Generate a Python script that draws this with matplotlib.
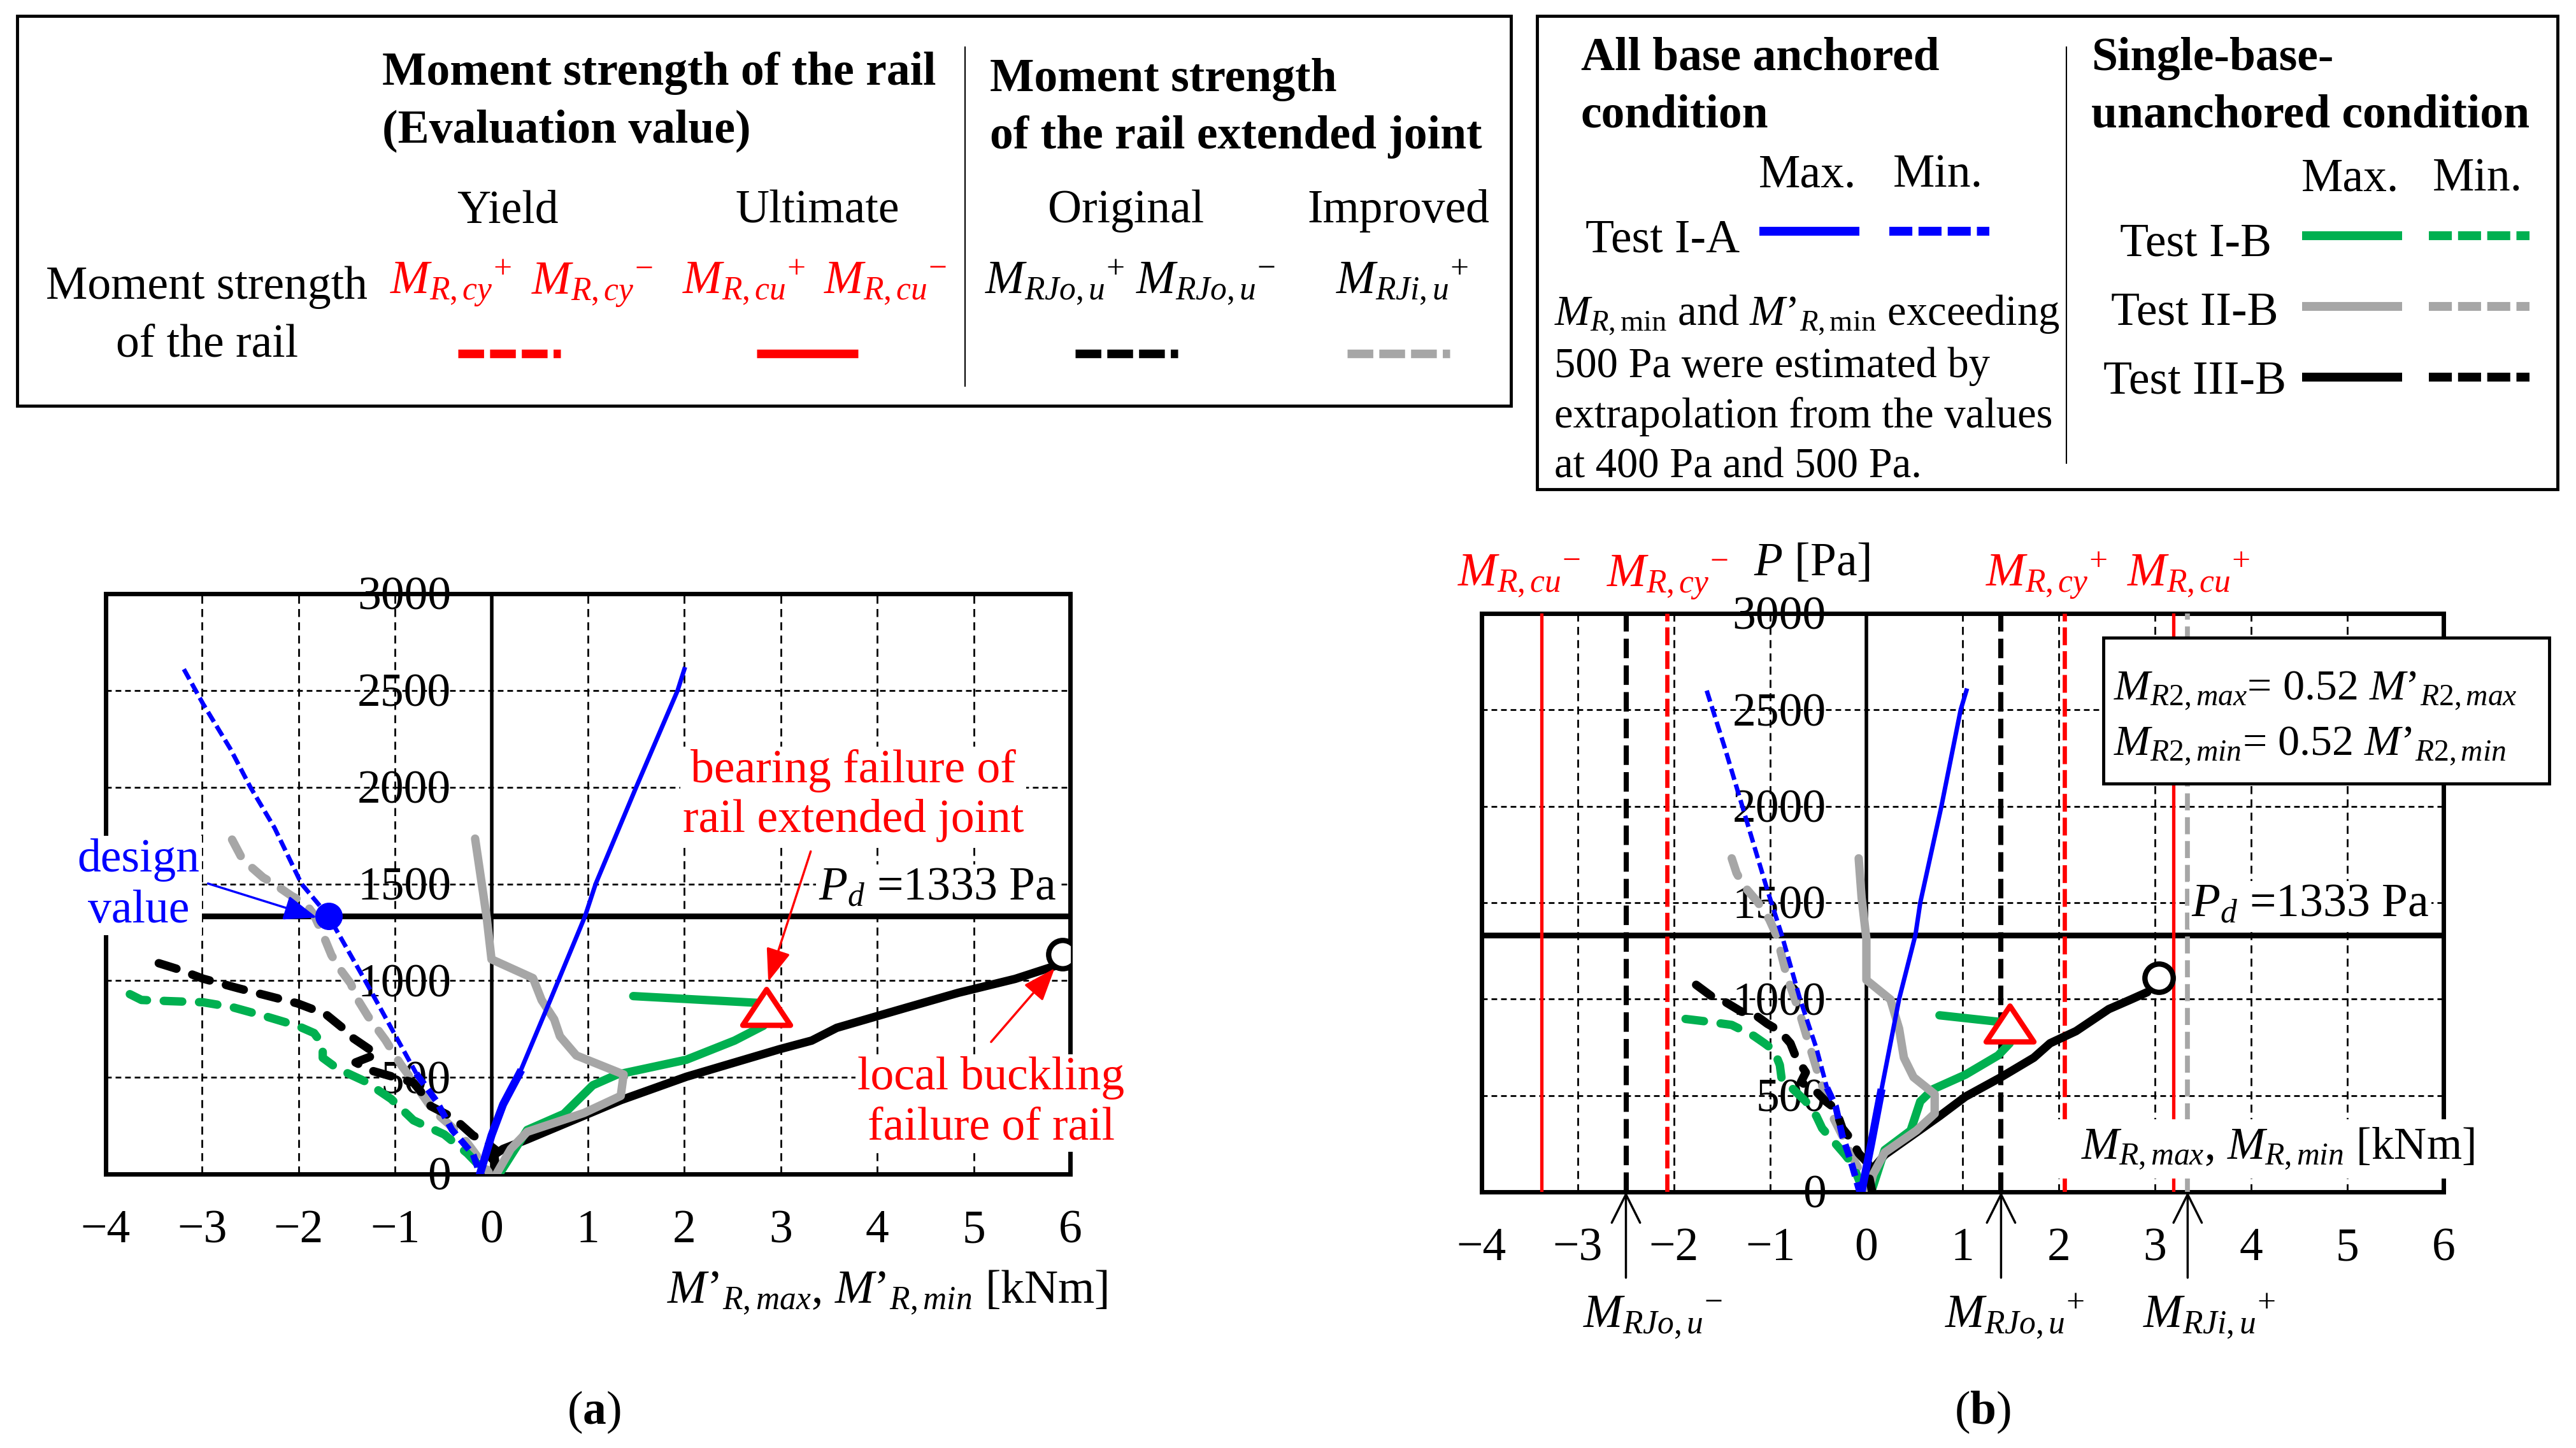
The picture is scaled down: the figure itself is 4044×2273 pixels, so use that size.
"""Rail moment vs. wind pressure: panel (a) M'_R, panel (b) M_R with strength lines."""

import matplotlib

matplotlib.use("Agg")
import matplotlib.pyplot as plt
from matplotlib.patches import Rectangle
from matplotlib.path import Path

plt.rcParams["font.family"] = ["Liberation Serif", "DejaVu Serif"]
plt.rcParams["mathtext.fontset"] = "custom"
plt.rcParams["mathtext.rm"] = "Liberation Serif"
plt.rcParams["mathtext.it"] = "Liberation Serif:italic"
plt.rcParams["mathtext.bf"] = "Liberation Serif:bold"

W, H = 4044, 2273
FS = 53
RED, BLUE, GREEN, GRAY = "#ff0000", "#0000ff", "#00b050", "#a6a6a6"

X_TICKS = [-4, -3, -2, -1, 0, 1, 2, 3, 4, 5, 6]
P_TICKS = [0, 500, 1000, 1500, 2000, 2500, 3000]
PD = 1333

# ---- panel (a): M'_R [kNm] vs P [Pa] ----
A_IA_MAX_THICK_X = [-0.12, 0.0, 0.12, 0.29]
A_IA_MAX_THICK_P = [0, 200, 360, 520]
A_IA_MAX_X = [0.29, 0.61, 0.97, 1.08, 1.50, 1.93, 2.00]
A_IA_MAX_P = [520, 900, 1333, 1500, 2000, 2500, 2610]
A_IA_MIN_X = [-3.19, -2.99, -2.71, -2.50, -2.25, -1.97, -1.69, -1.31, -0.78]
A_IA_MIN_P = [2610, 2430, 2200, 2000, 1790, 1500, 1333, 1000, 520]
A_IA_MIN_THICK_X = [-0.78, -0.57, -0.41, -0.19, -0.12]
A_IA_MIN_THICK_P = [520, 376, 229, 101, 0]

A_IB_MAX_X = [0.08, 0.37, 0.75, 1.05, 1.30, 2.02, 2.52, 2.82, 2.82, 2.76, 1.47]
A_IB_MAX_P = [0, 228, 311, 459, 514, 591, 690, 767, 820, 885, 920]
A_IB_MIN_X = [-3.75, -3.63, -3.34, -2.99, -2.69, -2.34, -2.01, -1.84, -1.75,
              -1.75, -1.60, -1.31, -1.04, -0.81, -0.49, -0.25, -0.12]
A_IB_MIN_P = [930, 900, 894, 888, 863, 815, 766, 729, 668,
              601, 546, 479, 388, 278, 205, 107, 40]

A_IIB_MAX_X = [-0.17, -0.05, 0.0, 0.43, 0.52, 0.65, 0.71, 0.88, 1.37, 1.34,
               0.96, 0.37, 0.20, 0.05]
A_IIB_MAX_P = [1734, 1327, 1110, 1013, 899, 800, 712, 613, 515, 404,
               316, 218, 130, 0]
A_IIB_MIN_X = [-2.69, -2.60, -2.51, -2.37, -2.25, -2.07, -1.93, -1.84, -1.75,
               -1.66, -1.57, -1.46, -1.40, -1.28, -1.19, -1.10, -1.01, -0.93,
               -0.84, -0.72, -0.60, -0.46, -0.28, -0.19, -0.10, -0.03]
A_IIB_MIN_P = [1729, 1644, 1595, 1534, 1498, 1437, 1400, 1339, 1241,
               1132, 1059, 985, 912, 815, 754, 693, 620, 559,
               498, 412, 327, 266, 180, 120, 59, 10]

A_IIIB_MAX_X = [0.05, 0.03, 0.12, 0.37, 1.34, 2.02, 2.99, 3.32, 3.58, 4.30,
                4.84, 5.43, 5.90]
A_IIIB_MAX_P = [0, 100, 130, 179, 382, 503, 646, 690, 756, 860,
                937, 1009, 1085]
A_IIIB_MIN_X = [-3.45, -3.25, -2.99, -2.63, -2.34, -2.01, -1.72, -1.54, -1.46,
                -1.28, -1.19, -1.41, -1.24, -0.81, -0.69, -0.63, -0.44, -0.34,
                -0.19, -0.07, 0.04, 0.0, 0.10]
A_IIIB_MIN_P = [1090, 1059, 1010, 961, 924, 882, 827, 754, 711,
                650, 620, 577, 534, 473, 400, 351, 302, 266,
                199, 168, 126, 83, 10]

A_DESIGN = (-1.69, 1333)
A_TRIANGLE = (2.85, 860)
A_CIRCLE = (5.92, 1135)

# ---- panel (b): M_R [kNm] vs P [Pa] ----
B_IA_MAX_THICK_X = [-0.05, 0.05, 0.15]
B_IA_MAX_THICK_P = [0, 250, 513]
B_IA_MAX_X = [0.15, 0.34, 0.51, 0.56, 0.78, 0.98, 1.04]
B_IA_MAX_P = [513, 1000, 1333, 1500, 2000, 2500, 2600]
B_IA_MIN_X = [-1.66, -1.47, -1.29, -1.03, -0.88, -0.69, -0.52, -0.41]
B_IA_MIN_P = [2600, 2300, 2000, 1566, 1333, 1000, 746, 540]
B_IA_MIN_THICK_X = [-0.41, -0.32, -0.25, -0.15, -0.07]
B_IA_MIN_THICK_P = [540, 444, 292, 140, 0]

B_IB_MAX_X = [0.05, 0.19, 0.46, 0.56, 0.69, 1.03, 1.37, 1.49, 1.49, 1.42, 0.76]
B_IB_MAX_P = [0, 217, 318, 469, 532, 608, 708, 771, 822, 880, 916]
B_IB_MIN_X = [-1.88, -1.68, -1.40, -1.17, -1.06, -0.96, -0.90, -0.88, -0.76,
              -0.63, -0.52, -0.46, -0.35, -0.22, -0.14, -0.06]
B_IB_MIN_P = [897, 885, 866, 809, 771, 734, 658, 582, 532,
              469, 393, 330, 267, 192, 141, 40]

B_IIB_MAX_X = [-0.08, -0.05, 0.0, 0.0, 0.25, 0.34, 0.39, 0.49, 0.71, 0.71,
               0.52, 0.19, 0.07, 0.02]
B_IIB_MAX_P = [1730, 1528, 1313, 1099, 998, 847, 696, 595, 507, 406,
               318, 204, 91, 0]
B_IIB_MIN_X = [-1.40, -1.35, -1.28, -1.13, -1.01, -0.93, -0.88, -0.83, -0.76,
               -0.69, -0.63, -0.56, -0.49, -0.42, -0.34, -0.25, -0.17, -0.05,
               -0.02]
B_IIB_MIN_P = [1730, 1654, 1591, 1503, 1414, 1326, 1225, 1124, 1024,
               923, 822, 708, 595, 494, 381, 292, 204, 91, 40]

B_IIIB_MAX_X = [0.02, 0.05, 0.19, 0.76, 1.03, 1.40, 1.74, 1.91, 2.18, 2.52,
                2.75, 2.92]
B_IIIB_MAX_P = [0, 110, 192, 393, 494, 595, 696, 771, 834, 948, 998, 1036]
B_IIIB_MIN_X = [-1.77, -1.60, -1.47, -1.30, -1.17, -1.03, -0.90, -0.79, -0.73,
                -0.63, -0.68, -0.52, -0.42, -0.32, -0.25, -0.15, -0.08, 0.05,
                0.02, 0.06]
B_IIIB_MIN_P = [1074, 1011, 986, 935, 923, 872, 834, 771, 696,
                620, 570, 519, 469, 431, 330, 267, 200, 130, 100, 0]

B_TRIANGLE = (1.49, 870)
B_CIRCLE = (3.04, 1110)

# strength lines in (b) [kNm]
M_CU_NEG, M_CY_NEG, M_CY_POS, M_CU_POS = -3.38, -2.07, 2.06, 3.19
M_JO_NEG, M_JO_POS, M_JI_POS = -2.50, 1.40, 3.34

WHITE_BOX = dict(boxstyle="square,pad=0.05", fc="white", ec="none")
CURVE_LW = 9.5
CURVE_DASH = (0, (2.2, 2.0))
TRI = Path([(-1.0, -0.72), (1.0, -0.72), (0.0, 0.78), (-1.0, -0.72)],
           [Path.MOVETO, Path.LINETO, Path.LINETO, Path.CLOSEPOLY])


def _frac(left, top, right, bottom):
    return [left / W, 1 - bottom / H, (right - left) / W, (bottom - top) / H]


def _minus(v):
    return f"{v}".replace("-", "\u2212")


def _setup_panel(ax):
    ax.set_xlim(-4, 6)
    ax.set_ylim(0, 3000)
    ax.set_xticks(X_TICKS)
    ax.set_xticklabels([_minus(v) for v in X_TICKS], fontsize=FS)
    ax.set_yticks(P_TICKS)
    ax.set_yticklabels([])
    ax.tick_params(length=0, pad=40)
    ax.xaxis.grid(True, color="k", lw=2, ls=(0, (4.5, 3.0)))
    ax.yaxis.grid(True, color="k", lw=2, ls=(0, (3.2, 2.2)))
    for s in ax.spines.values():
        s.set_linewidth(5)
    ax.axvline(0, color="k", lw=4, zorder=2)
    ax.axhline(PD, color="k", lw=6.5, zorder=2)
    for v in P_TICKS:
        # digits centred on the value: baseline about half a digit height below
        ax.text(-0.42, v - 82, f"{v}", ha="right", va="baseline", fontsize=FS,
                zorder=1.5)


def _curve(ax, x, p, color, dashed=False, z=4):
    ax.plot(x, p, color=color, lw=CURVE_LW, ls=CURVE_DASH if dashed else "-",
            solid_capstyle="round", dash_capstyle="round",
            solid_joinstyle="round", zorder=z)


def _arrow(ax, xy, xytext, color, filled=True):
    style = "-|>,head_length=0.8,head_width=0.3" if filled else \
        "->,head_length=0.8,head_width=0.4"
    ax.annotate("", xy=xy, xytext=xytext, annotation_clip=False, zorder=11,
                arrowprops=dict(arrowstyle=style, color=color, lw=2.5,
                                mutation_scale=40, shrinkA=0, shrinkB=0))


def _markers(ax, tri, circ):
    ax.plot(*tri, marker=TRI, ms=54, mfc="white", mec=RED, mew=6, zorder=8)
    ax.plot(*circ, "o", ms=32, mfc="white", mec="k", mew=6, zorder=8)


fig = plt.figure(figsize=(W / 100, H / 100), dpi=100)
ax_a = fig.add_axes(_frac(166, 932, 1680, 1843))
ax_b = fig.add_axes(_frac(2326, 963, 3836, 1871))

# ---------------- panel (a) ----------------
_setup_panel(ax_a)
_curve(ax_a, A_IIIB_MAX_X, A_IIIB_MAX_P, "k")
_curve(ax_a, A_IB_MAX_X, A_IB_MAX_P, GREEN)
_curve(ax_a, A_IIB_MAX_X, A_IIB_MAX_P, GRAY)
_curve(ax_a, A_IIB_MIN_X, A_IIB_MIN_P, GRAY, dashed=True)
_curve(ax_a, A_IB_MIN_X, A_IB_MIN_P, GREEN, dashed=True)
_curve(ax_a, A_IIIB_MIN_X, A_IIIB_MIN_P, "k", dashed=True, z=5)
ax_a.plot(A_IA_MAX_X, A_IA_MAX_P, color=BLUE, lw=5, zorder=7)
ax_a.plot(A_IA_MAX_THICK_X, A_IA_MAX_THICK_P, color=BLUE, lw=9, zorder=7)
ax_a.plot(A_IA_MIN_X, A_IA_MIN_P, color=BLUE, lw=5, ls=(0, (2.6, 1.1)), zorder=7)
ax_a.plot(A_IA_MIN_THICK_X, A_IA_MIN_THICK_P, color=BLUE, lw=7.5,
          ls=(0, (2.0, 1.0)), zorder=7)
_markers(ax_a, A_TRIANGLE, A_CIRCLE)
ax_a.plot(*A_DESIGN, "o", color=BLUE, ms=30, zorder=9)

ax_a.text(-3.66, 1491, "design\nvalue", color=BLUE, ha="center", va="center",
          fontsize=FS, linespacing=1.25, bbox=WHITE_BOX, zorder=10, clip_on=False)
_arrow(ax_a, (-1.81, 1326), (-2.94, 1502), BLUE)
ax_a.text(3.75, 1957, "bearing failure of\nrail extended joint", color=RED,
          ha="center", va="center", fontsize=FS, linespacing=1.2,
          bbox=WHITE_BOX, zorder=10)
_arrow(ax_a, (2.87, 995), (3.31, 1668), RED)
ax_a.text(5.18, 368, "local buckling\nfailure of rail", color=RED,
          ha="center", va="center", fontsize=FS, linespacing=1.2,
          bbox=WHITE_BOX, zorder=10, clip_on=False)
_arrow(ax_a, (5.84, 1064), (5.18, 683), RED)
ax_a.text(3.39, 1419, "$P_d$ =1333 Pa", ha="left", va="baseline", fontsize=FS,
          bbox=WHITE_BOX, zorder=10)
ax_a.text(6.39, -668, "$M’_{R,max}$, $M’_{R,min}$ [kNm]", ha="right",
          va="baseline", fontsize=FS, clip_on=False)

# ---------------- panel (b) ----------------
_setup_panel(ax_b)
ax_b.axvline(M_CU_NEG, color=RED, lw=3.8, zorder=2.6)
ax_b.axvline(M_CU_POS, color=RED, lw=3.8, zorder=2.6)
ax_b.axvline(M_CY_NEG, color=RED, lw=4.8, ls=(0, (4.2, 1.4)), zorder=2.6)
ax_b.axvline(M_CY_POS, color=RED, lw=4.8, ls=(0, (4.2, 1.4)), zorder=2.6)
ax_b.axvline(M_JO_NEG, color="k", lw=5.8, ls=(0, (3.8, 1.4)), zorder=2.6)
ax_b.axvline(M_JO_POS, color="k", lw=5.8, ls=(0, (3.8, 1.4)), zorder=2.6)
ax_b.axvline(M_JI_POS, color=GRAY, lw=5.5, ls=(0, (3.5, 1.4)), zorder=2.6)

_curve(ax_b, B_IIIB_MAX_X, B_IIIB_MAX_P, "k")
_curve(ax_b, B_IB_MAX_X, B_IB_MAX_P, GREEN)
_curve(ax_b, B_IIB_MAX_X, B_IIB_MAX_P, GRAY)
_curve(ax_b, B_IIB_MIN_X, B_IIB_MIN_P, GRAY, dashed=True)
_curve(ax_b, B_IB_MIN_X, B_IB_MIN_P, GREEN, dashed=True)
_curve(ax_b, B_IIIB_MIN_X, B_IIIB_MIN_P, "k", dashed=True, z=5)
ax_b.plot(B_IA_MAX_X, B_IA_MAX_P, color=BLUE, lw=5, zorder=7)
ax_b.plot(B_IA_MAX_THICK_X, B_IA_MAX_THICK_P, color=BLUE, lw=9, zorder=7)
ax_b.plot(B_IA_MIN_X, B_IA_MIN_P, color=BLUE, lw=5, ls=(0, (2.6, 1.1)), zorder=7)
ax_b.plot(B_IA_MIN_THICK_X, B_IA_MIN_THICK_P, color=BLUE, lw=7.5,
          ls=(0, (2.0, 1.0)), zorder=7)
_markers(ax_b, B_TRIANGLE, B_CIRCLE)

for x, s in [(-3.61, r"$M_{R,cu}{}^{-}$"), (-2.07, r"$M_{R,cy}{}^{-}$"),
             (1.87, r"$M_{R,cy}{}^{+}$"), (3.35, r"$M_{R,cu}{}^{+}$")]:
    ax_b.text(x, 3143, s, color=RED, ha="center", va="baseline", fontsize=FS,
              clip_on=False)
ax_b.text(-1.17, 3198, "$P$ [Pa]", ha="left", va="baseline", fontsize=FS,
          clip_on=False)
for x, lx, s in [(M_JO_NEG, -2.22, r"$M_{RJo,u}{}^{-}$"),
                 (M_JO_POS, 1.54, r"$M_{RJo,u}{}^{+}$"),
                 (M_JI_POS, 3.56, r"$M_{RJi,u}{}^{+}$")]:
    _arrow(ax_b, (x, 0), (x, -445), "k", filled=False)
    ax_b.text(lx, -705, s, ha="center", va="baseline", fontsize=FS,
              clip_on=False)
ax_b.text(3.38, 1431, "$P_d$ =1333 Pa", ha="left", va="baseline", fontsize=FS,
          bbox=WHITE_BOX, zorder=10)
ax_b.text(2.0, 172, "  $M_{R,max}$, $M_{R,min}$ [kNm]", ha="left",
          va="baseline", fontsize=51, zorder=10, clip_on=False,
          bbox=dict(boxstyle="square,pad=0.15", fc="white", ec="none"))

# ---------------- overlay (legend boxes, labels) ----------------
ov = fig.add_axes([0, 0, 1, 1], zorder=10)
ov.set_xlim(0, W)
ov.set_ylim(H, 0)
ov.axis("off")
ov.patch.set_alpha(0)


def _t(x, y, s, ha="left", **kw):
    ov.text(x, y, s, ha=ha, va="baseline", fontsize=kw.pop("fs", FS), **kw)


def _sample(x0, x1, y, color, dashed, lw=9.7, dash=(3.0, 0.7)):
    ov.plot([x0, x1], [y, y], color=color, lw=lw,
            ls=(0, dash) if dashed else "-", solid_capstyle="butt",
            dash_capstyle="butt")


# box 1
ov.add_patch(Rectangle((27, 25), 2345, 612, fill=False, ec="k", lw=3.5))
ov.plot([1515, 1515], [74, 606], color="k", lw=1.5)
_t(600, 133, "Moment strength of the rail", fontweight="bold")
_t(600, 223, "(Evaluation value)", fontweight="bold")
_t(1554, 143, "Moment strength", fontweight="bold")
_t(1554, 233, "of the rail extended joint", fontweight="bold")
for cx, s in [(797, "Yield"), (1283, "Ultimate"), (1768, "Original"),
              (2195, "Improved")]:
    _t(cx, 349, s, ha="center")
_t(325, 469, "Moment strength", ha="center")
_t(325, 560, "of the rail", ha="center")
for x0, s, c in [(612, r"$M_{R,cy}{}^{+}$", RED), (834, r"$M_{R,cy}{}^{-}$", RED),
                 (1071, r"$M_{R,cu}{}^{+}$", RED), (1293, r"$M_{R,cu}{}^{-}$", RED),
                 (1546, r"$M_{RJo,u}{}^{+}$", "k"), (1783, r"$M_{RJo,u}{}^{-}$", "k"),
                 (2097, r"$M_{RJi,u}{}^{+}$", "k")]:
    _t(x0, 461, s, color=c)
_sample(719, 880, 555, RED, True)
_sample(1188, 1347, 555, RED, False)
_sample(1688, 1849, 555, "k", True)
_sample(2115, 2276, 555, GRAY, True)

# box 2
ov.add_patch(Rectangle((2413, 25), 1602, 743, fill=False, ec="k", lw=3.5))
ov.plot([3244, 3244], [74, 727], color="k", lw=1.5)
_t(2482, 110, "All base anchored", fontweight="bold")
_t(2482, 199, "condition", fontweight="bold")
_t(2838, 293, "Max.", ha="center")
_t(3042, 293, "Min.", ha="center")
_t(2489, 395, "Test I-A")
_sample(2762, 2919, 363, BLUE, False, lw=10)
_sample(2966, 3123, 363, BLUE, True, lw=10, dash=(2.6, 0.7))
_t(2440, 510, r"$M_{R,\mathrm{min}}$ and $M’_{R,\mathrm{min}}$ exceeding", fs=48)
_t(2440, 592, "500 Pa were estimated by", fs=48)
_t(2440, 671, "extrapolation from the values", fs=48)
_t(2440, 750, "at 400 Pa and 500 Pa.", fs=48)
_t(3283, 110, "Single-base-", fontweight="bold")
_t(3283, 199, "unanchored condition", fontweight="bold")
_t(3690, 300, "Max.", ha="center")
_t(3889, 300, "Min.", ha="center")
for x0, yb, ys, s, c in [(3328, 402, 370, "Test I-B", GREEN),
                         (3314, 510, 481, "Test II-B", GRAY),
                         (3302, 617, 592, "Test III-B", "k")]:
    _t(x0, yb, s)
    _sample(3614, 3771, ys, c, False, lw=10)
    _sample(3813, 3971, ys, c, True, lw=10, dash=(2.6, 0.7))

# formula box in (b)
ov.add_patch(Rectangle((3302, 1001), 700, 229, fc="white", ec="k", lw=3.5))
_t(3318, 1098, "$M_{R2,max}$= 0.52 $M’_{R2,max}$", fs=49)
_t(3318, 1185, "$M_{R2,min}$= 0.52 $M’_{R2,min}$", fs=49)

# panel labels
_t(932, 2235, r"($\mathbf{a}$)", ha="center")
_t(3112, 2235, r"($\mathbf{b}$)", ha="center")

fig.savefig("out.png", dpi=100)
